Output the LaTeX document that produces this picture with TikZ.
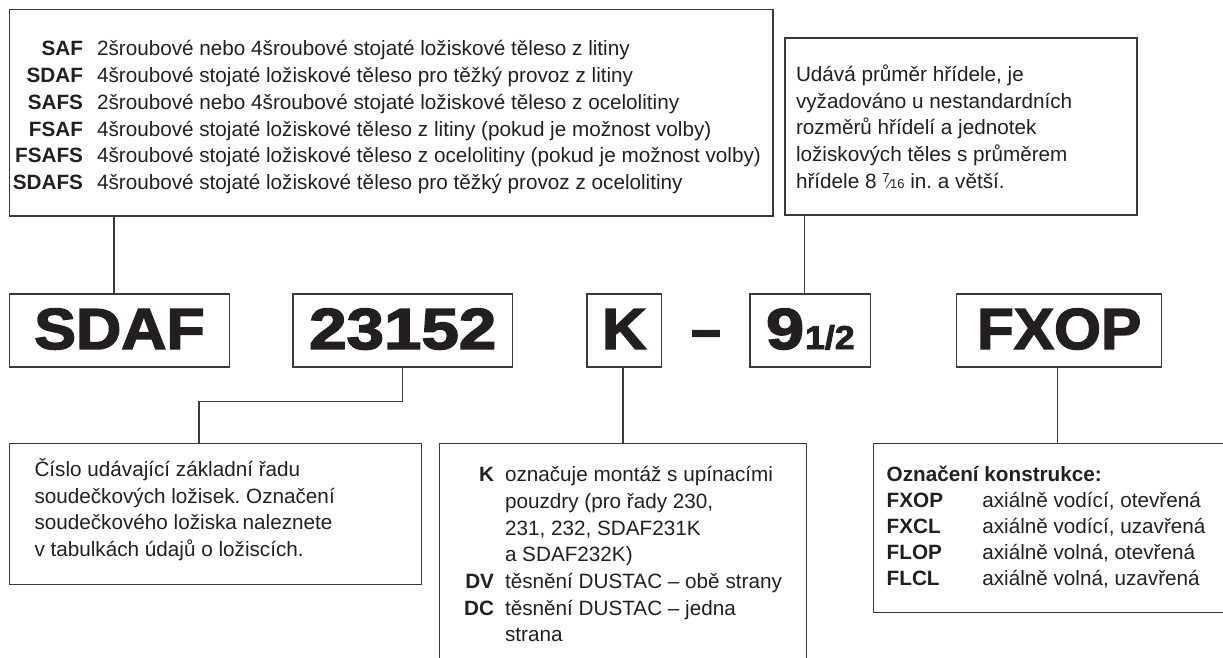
\documentclass[tikz,border=0pt]{standalone}
\usepackage{fontspec}
\usepackage{array}
\usepackage{graphicx}
\setmainfont{Liberation Sans}
\newfontfamily\codefont{Liberation Sans}[BoldFeatures={FakeBold=2.5}]
\definecolor{ink}{HTML}{231F20}
\definecolor{rulecol}{HTML}{3A3A3A}
\newcommand\widen[2]{\scalebox{#1}[1]{#2}}
\newcommand\smallfrac[2]{{\fontsize{13}{13}\selectfont\raisebox{6pt}{#1}\kern-0.8pt\char"2044\kern-0.8pt#2}}
\frenchspacing

\begin{document}
\begin{tikzpicture}[x=1pt,y=-1pt,
  frame/.style={draw=rulecol,line width=1.2pt,rectangle,inner sep=0pt,outer sep=0pt},
  body/.style={inner sep=0pt,outer sep=0pt,anchor=base west,text=ink,
    font=\fontsize{20.7}{26.7}\selectfont},
  codebox/.style={frame,minimum height=73pt,text=ink,
    text height=41.5pt,text depth=4.5pt,
    font=\codefont\bfseries\fontsize{58}{58}\selectfont},
  link/.style={draw=rulecol,line width=1.2pt}]

\useasboundingbox (0,0) rectangle (1223,658);
\clip (0,0) rectangle (1223,658);

% ---- upper explanation boxes
\node[frame,minimum width=763.5pt,minimum height=206.5pt] (housing) at (391.25,112.75) {};
\node[body] (housingtext) at (13,56) {%
  \begin{tabular}[t]{@{}>{\bfseries}w{r}{70pt}@{\hspace{14pt}}l@{}}
  SAF & 2šroubové nebo 4šroubové stojaté ložiskové těleso z litiny\\
  SDAF & 4šroubové stojaté ložiskové těleso pro těžký provoz z litiny\\
  SAFS & 2šroubové nebo 4šroubové stojaté ložiskové těleso z ocelolitiny\\
  FSAF & 4šroubové stojaté ložiskové těleso z litiny (pokud je možnost volby)\\
  FSAFS & 4šroubové stojaté ložiskové těleso z ocelolitiny (pokud je možnost volby)\\
  SDAFS & 4šroubové stojaté ložiskové těleso pro těžký provoz z ocelolitiny
  \end{tabular}};

\node[frame,minimum width=352pt,minimum height=177pt] (shaft) at (961,126.5) {};
\node[body] (shafttext) at (796,81.5) {%
  \begin{tabular}[t]{@{}l@{}}
  Udává průměr hřídele, je\\
  vyžadováno u nestandardních\\
  rozměrů hřídelí a jednotek\\
  ložiskových těles s průměrem\\
  hřídele 8 \smallfrac{7}{16} in. a větší.
  \end{tabular}};

% ---- designation row
\node[codebox,minimum width=220.5pt] (sdaf) at (119.5,330.5) {\widen{1.08}{SDAF}};
\node[codebox,minimum width=219.5pt] (num) at (402.75,330.5) {\widen{1.16}{23152}};
\node[codebox,minimum width=74.6pt] (kbox) at (624.3,330.5) {\widen{1.06}{K}};
\node[inner sep=0pt,outer sep=0pt,anchor=base,text=ink,
      font=\codefont\bfseries\fontsize{58}{58}\selectfont] (dash) at (706,349) {\widen{0.92}{–}};
\node[codebox,minimum width=120.7pt] (half) at (810.35,330.5)
  {\widen{1.18}{9}\kern1pt{\fontsize{33}{33}\selectfont\widen{1.08}{1/2}}};
\node[codebox,minimum width=205.4pt] (fxop) at (1059.1,330.5) {\widen{1.04}{FXOP}};

% ---- lower explanation boxes
\node[frame,minimum width=412.4pt,minimum height=141pt] (series) at (215.5,513.8) {};
\node[body] (seriestext) at (34.5,476.5) {%
  \begin{tabular}[t]{@{}l@{}}
  Číslo udávající základní řadu\\
  soudečkových ložisek. Označení\\
  soudečkového ložiska naleznete\\
  v tabulkách údajů o ložiscích.
  \end{tabular}};

\node[frame,minimum width=367.4pt,minimum height=260pt] (seal) at (623,573.3) {};
\node[body] (sealtext) at (464,481.7) {%
  \begin{tabular}[t]{@{}>{\bfseries}w{r}{30pt}@{\hspace{11pt}}l@{}}
  K & označuje montáž s upínacími\\
    & pouzdry (pro řady 230,\\
    & 231, 232, SDAF231K\\
    & a SDAF232K)\\
  DV & těsnění DUSTAC – obě strany\\
  DC & těsnění DUSTAC – jedna\\
     & strana
  \end{tabular}};

\node[frame,minimum width=386.7pt,minimum height=169.4pt] (design) at (1066.65,528) {};
\node[body,font=\fontsize{20.7}{26}\selectfont] (designtext) at (886.7,481.7) {%
  \begin{tabular}[t]{@{}>{\bfseries}w{l}{95.6pt}@{}l@{}}
  \multicolumn{2}{@{}l@{}}{\bfseries Označení konstrukce:}\\
  FXOP & axiálně vodící, otevřená\\
  FXCL & axiálně vodící, uzavřená\\
  FLOP & axiálně volná, otevřená\\
  FLCL & axiálně volná, uzavřená
  \end{tabular}};

% ---- leader lines
\draw[link] ([xshift=-5.5pt]sdaf.north) -- ([xshift=-5.5pt]sdaf.north |- housing.south);
\coordinate (elbow) at (199,401.7);
\draw[link] (num.south) |- (elbow) -- (elbow |- series.north);
\draw[link] ([xshift=-1.3pt]kbox.south) -- ([xshift=-1.3pt]kbox.south |- seal.north);
\draw[link] ([xshift=-6pt]half.north) -- ([xshift=-6pt]half.north |- shaft.south);
\draw[link] ([xshift=-1.4pt]fxop.south) -- ([xshift=-1.4pt]fxop.south |- design.north);
\end{tikzpicture}
\end{document}
